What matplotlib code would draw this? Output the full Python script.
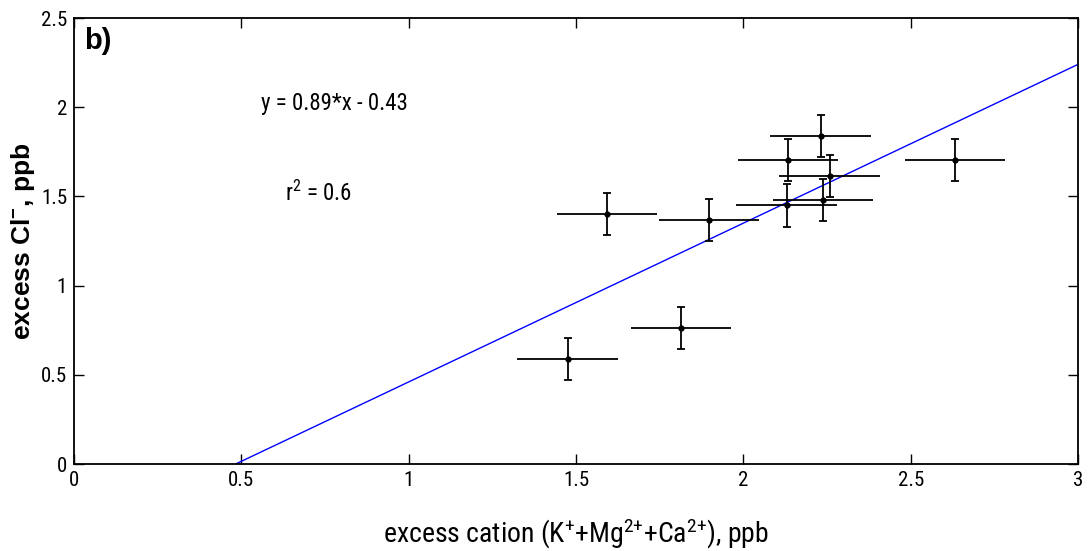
import matplotlib
matplotlib.use("Agg")
import matplotlib.pyplot as plt
import numpy as np

# data
cation = [1.593, 1.898, 1.814, 1.475, 2.231, 2.134, 2.258, 2.238, 2.129, 2.632]
chloride = [1.40, 1.368, 0.762, 0.59, 1.838, 1.704, 1.614, 1.48, 1.45, 1.704]
cation_err = [0.15, 0.15, 0.15, 0.15, 0.15, 0.15, 0.15, 0.15, 0.15, 0.15]
chloride_err = [0.117, 0.12, 0.118, 0.117, 0.118, 0.12, 0.118, 0.117, 0.12, 0.12]
slope, intercept = 0.89, -0.43
x_ticks = [0, 0.5, 1, 1.5, 2, 2.5, 3]
y_ticks = [0, 0.5, 1, 1.5, 2, 2.5]

narrow = ['Roboto Condensed', 'Liberation Sans Narrow', 'Liberation Sans', 'DejaVu Sans']
plt.rcParams['font.family'] = narrow
plt.rcParams['mathtext.fontset'] = 'custom'
plt.rcParams['mathtext.rm'] = 'Roboto Condensed'
plt.rcParams['mathtext.it'] = 'Roboto Condensed'
plt.rcParams['mathtext.bf'] = 'Liberation Sans:bold'
plt.rcParams['mathtext.default'] = 'regular'

fig = plt.figure(figsize=(10.91, 5.51), dpi=100)
ax = fig.add_axes([74/1091, 1-464/551, (1078-74)/1091, (464-18)/551])

# horizontal error bars (no caps)
ax.errorbar(cation, chloride, xerr=cation_err, fmt='none', ecolor='black',
            elinewidth=1.3, capsize=0, zorder=3)
# vertical error bars (with caps) and points
ax.errorbar(cation, chloride, yerr=chloride_err, fmt='o', color='black',
            ms=3.5, elinewidth=1.3, capsize=3, capthick=1.3, zorder=4)

x0 = -intercept / slope
xl = np.array([x0, 3.0])
ax.plot(xl, slope * xl + intercept, color='#0000ff', lw=1.0, zorder=2)

ax.set_xlim(0, 3)
ax.set_ylim(0, 2.5)
ax.set_xticks(x_ticks)
ax.set_xticklabels(['0', '0.5', '1', '1.5', '2', '2.5', '3'])
ax.set_yticks(y_ticks)
ax.set_yticklabels(['0', '0.5', '1', '1.5', '2', '2.5'])
ax.tick_params(direction='in', top=True, right=True, length=7, width=1, labelsize=15, pad=5)
for s in ax.spines.values():
    s.set_linewidth(1.3)

ax.text(0.03, 2.37, 'b)', fontsize=21, fontweight='bold', family=['Liberation Sans', 'DejaVu Sans'],
        ha='left', va='center')
ax.text(0.56, 2.02, 'y = 0.89*x - 0.43', fontsize=16.5, ha='left', va='center')
ax.text(0.63, 1.52, r'r$^{2}$ = 0.6', fontsize=16.5, ha='left', va='center')

ax.set_xlabel(r'excess cation (K$^{+}$+Mg$^{2{+}}$+Ca$^{2{+}}$), ppb', fontsize=20)
ax.xaxis.set_label_coords(0.5, -0.118)
ax.set_ylabel(r'excess Cl$^{\mathbf{-}}$, ppb', fontsize=19, fontweight='bold',
              family=['Liberation Sans', 'DejaVu Sans'])
ax.yaxis.set_label_coords(-0.037, 0.5)

fig.savefig('out.png', dpi=100)
